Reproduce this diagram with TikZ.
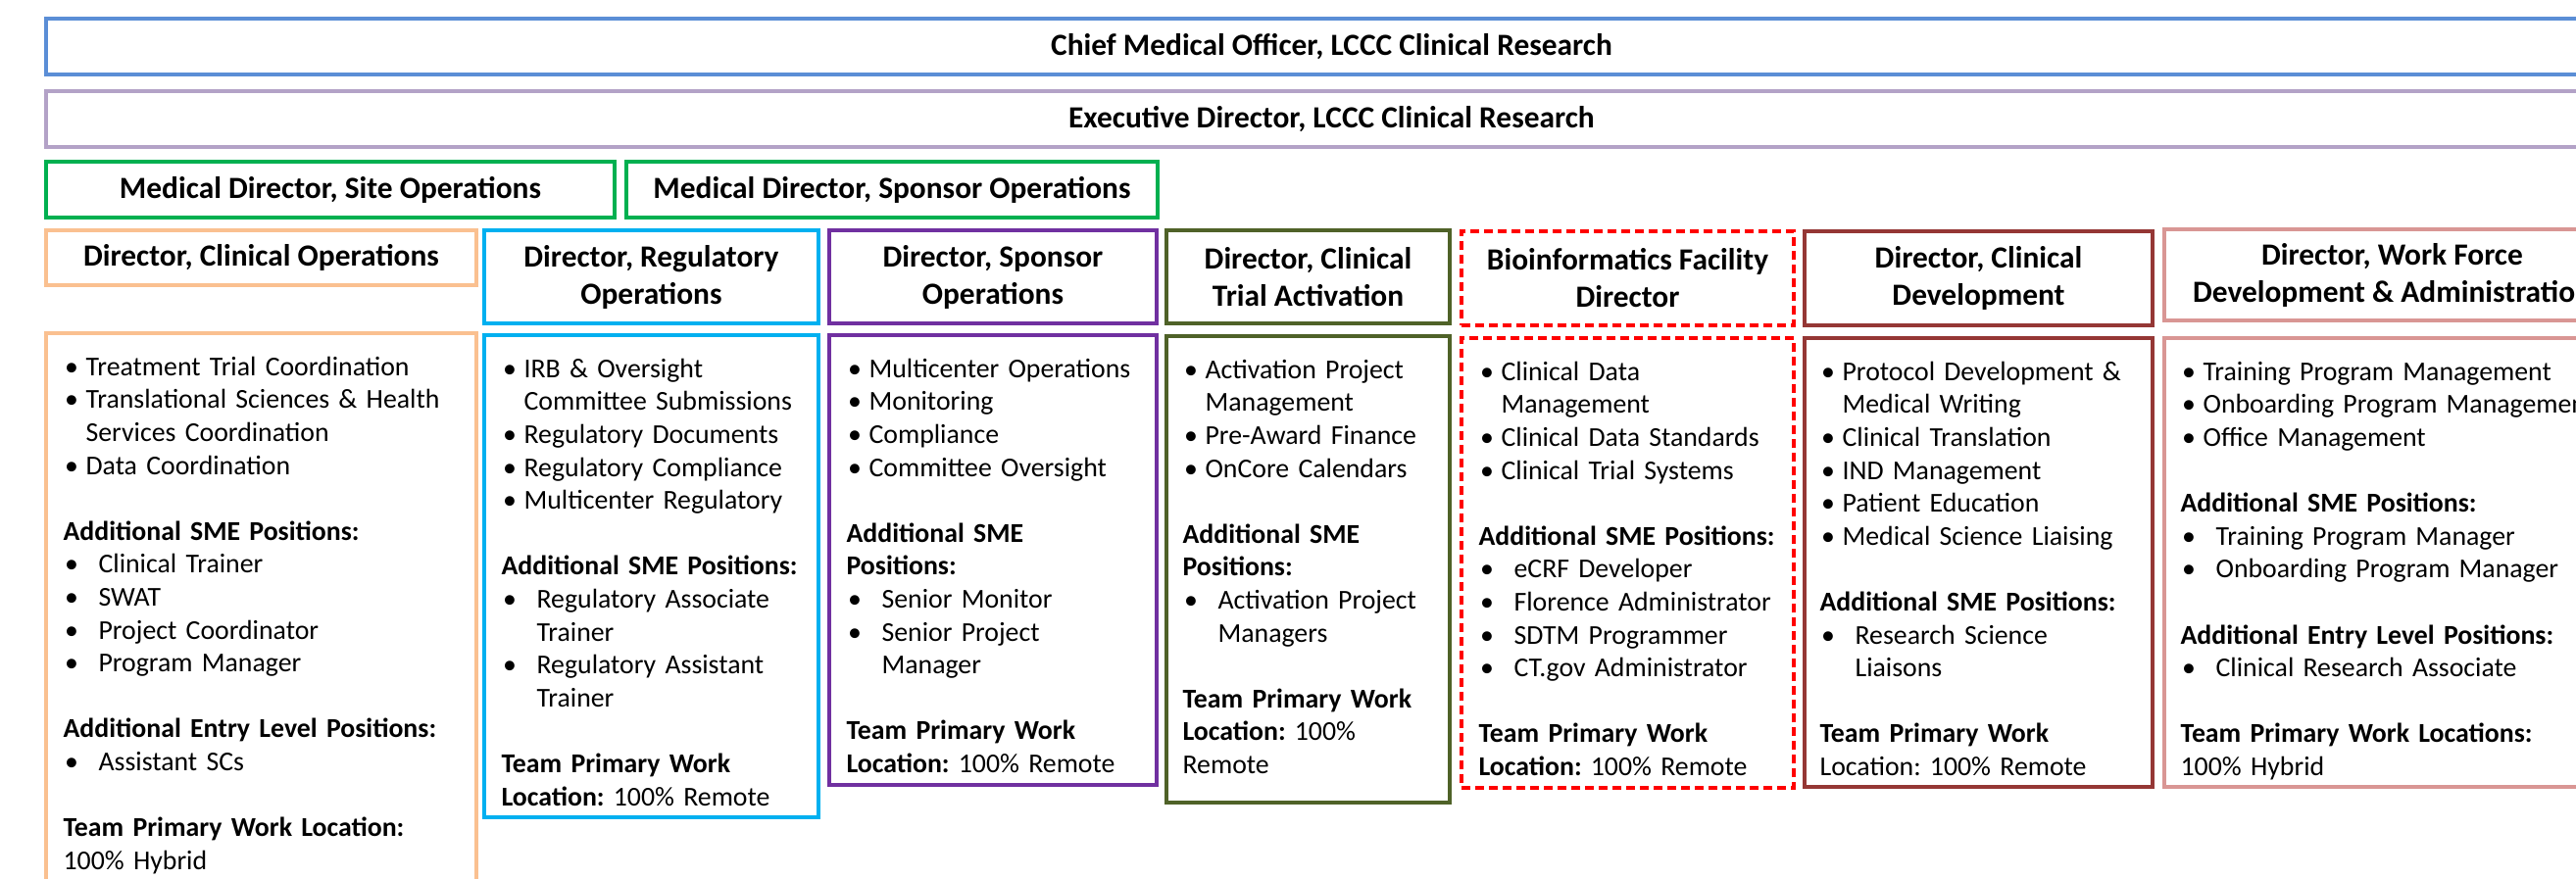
\documentclass[tikz,border=0pt]{standalone}
\usepackage{fontspec}
\setmainfont{Carlito}
\usetikzlibrary{fit}

\definecolor{cmoblue}{HTML}{5B8ED6}
\definecolor{execlav}{HTML}{B3A2C7}
\definecolor{medgreen}{HTML}{00B050}
\definecolor{opsorange}{HTML}{FAC090}
\definecolor{regcyan}{HTML}{00B0F0}
\definecolor{spopurple}{HTML}{7030A0}
\definecolor{actolive}{HTML}{4F6228}
\definecolor{biored}{HTML}{FF0000}
\definecolor{devred}{HTML}{953735}
\definecolor{wfpink}{HTML}{D99694}

% list lines inside the team boxes
\newcommand{\itm}[1]{\par\hangindent=11.5pt\hangafter=1\noindent\strut\makebox[11.5pt][l]{\hspace{0.8pt}\textbullet}#1}
\newcommand{\sme}[1]{\par\hangindent=18pt\hangafter=1\noindent\strut\makebox[18pt][l]{\hspace{0.8pt}\textbullet}#1}
\newcommand{\hd}[1]{\par\noindent\strut\textbf{#1}}
\newcommand{\rowtxt}[1]{\par\noindent\strut #1}
\newcommand{\blankrow}{\par\vspace{16.8pt}}

\begin{document}
\begin{tikzpicture}[x=0.5pt,y=-0.5pt,
    boxline/.style={line width=1.8pt, inner sep=0pt},
    hdbox/.style={boxline, align=center, font=\fontsize{15.7}{19}\selectfont\bfseries},
    bodytext/.style={anchor=north west, inner sep=0pt, text width=240pt,
        font=\fontsize{13.9}{16.8}\selectfont,
        execute at begin node={\setlength{\parskip}{0pt}\frenchspacing}},
    redash/.style={dash pattern=on 4.5pt off 2.5pt}]
\useasboundingbox (0,0) rectangle (2628,896);
\clip (0,0) rectangle (2628,896);

% leadership rows
\node[hdbox, draw=cmoblue, minimum width=1311.5pt, minimum height=28.5pt] (cmo) at (1358.5,47.5) {Chief Medical Officer, LCCC Clinical Research};
\node[hdbox, draw=execlav, minimum width=1311.5pt, minimum height=28.5pt] (exec) at (1358.5,121.5) {Executive Director, LCCC Clinical Research};
\node[hdbox, draw=medgreen, minimum width=290pt, minimum height=28.5pt] (medsite) at (337,193.5) {Medical Director, Site Operations};
\node[hdbox, draw=medgreen, minimum width=271pt, minimum height=28.5pt] (medspo) at (910,193.5) {Medical Director, Sponsor Operations};

% director headers
\node[hdbox, draw=opsorange, minimum width=219.5pt, minimum height=28pt] (opshd) at (266.5,263) {Director, Clinical Operations};
\node[hdbox, draw=regcyan, minimum width=170.5pt, minimum height=47.5pt] (reghd) at (664.5,282.5) {Director, Regulatory\\Operations};
\node[hdbox, draw=spopurple, minimum width=167pt, minimum height=47.5pt] (spohd) at (1013,282.5) {Director, Sponsor\\Operations};
\node[hdbox, draw=actolive, minimum width=144.5pt, minimum height=47.5pt] (acthd) at (1334.5,282.5) {Director, Clinical\\Trial Activation};
\node[hdbox, draw=biored, redash, minimum width=169.5pt, minimum height=48pt] (biohd) at (1660.5,284) {Bioinformatics Facility\\Director};
\node[hdbox, draw=devred, minimum width=177.5pt, minimum height=48pt] (devhd) at (2018.5,284) {Director, Clinical\\Development};
\node[hdbox, draw=wfpink, minimum width=232.5pt, minimum height=46.5pt] (wfhd) at (2440.5,280.5) {Director, Work Force\\Development \& Administration};

% team boxes
\node[boxline, draw=opsorange, fit={(47,340) (486,910)}] (opsbody) {};
\node[boxline, draw=regcyan, fit={(494,342) (835,834)}] (regbody) {};
\node[boxline, draw=spopurple, fit={(846,342) (1180,801)}] (spobody) {};
\node[boxline, draw=actolive, fit={(1190,343) (1479,819)}] (actbody) {};
\node[boxline, draw=biored, redash, fit={(1491,345) (1830,804)}] (biobody) {};
\node[boxline, draw=devred, fit={(1841,345) (2196,803)}] (devbody) {};
\node[boxline, draw=wfpink, fit={(2208,345) (2673,803)}] (wfbody) {};

\node[bodytext] (opstext) at ([shift={(19,11)}]opsbody.north west) {
\itm{Treatment Trial Coordination}
\itm{Translational Sciences \& Health\newline Services Coordination}
\itm{Data Coordination}
\blankrow
\hd{Additional SME Positions:}
\sme{Clinical Trainer}
\sme{SWAT}
\sme{Project Coordinator}
\sme{Program Manager}
\blankrow
\hd{Additional Entry Level Positions:}
\sme{Assistant SCs}
\blankrow
\hd{Team Primary Work Location:}
\rowtxt{100\% Hybrid}};

\node[bodytext] (regtext) at ([shift={(19,11)}]regbody.north west) {
\itm{IRB \& Oversight\newline Committee Submissions}
\itm{Regulatory Documents}
\itm{Regulatory Compliance}
\itm{Multicenter Regulatory}
\blankrow
\hd{Additional SME Positions:}
\sme{Regulatory Associate\newline Trainer}
\sme{Regulatory Assistant\newline Trainer}
\blankrow
\hd{Team Primary Work}
\rowtxt{\textbf{Location:} 100\% Remote}};

\node[bodytext] (spotext) at ([shift={(19,11)}]spobody.north west) {
\itm{Multicenter Operations}
\itm{Monitoring}
\itm{Compliance}
\itm{Committee Oversight}
\blankrow
\hd{Additional SME}
\hd{Positions:}
\sme{Senior Monitor}
\sme{Senior Project\newline Manager}
\blankrow
\hd{Team Primary Work}
\rowtxt{\textbf{Location:} 100\% Remote}};

\node[bodytext] (acttext) at ([shift={(18,11)}]actbody.north west) {
\itm{Activation Project\newline Management}
\itm{Pre-Award Finance}
\itm{OnCore Calendars}
\blankrow
\hd{Additional SME}
\hd{Positions:}
\sme{Activation Project\newline Managers}
\blankrow
\hd{Team Primary Work}
\rowtxt{\textbf{Location:} 100\%}
\rowtxt{Remote}};

\node[bodytext] (biotext) at ([shift={(19,11)}]biobody.north west) {
\itm{Clinical Data\newline Management}
\itm{Clinical Data Standards}
\itm{Clinical Trial Systems}
\blankrow
\hd{Additional SME Positions:}
\sme{eCRF Developer}
\sme{Florence Administrator}
\sme{SDTM Programmer}
\sme{CT.gov Administrator}
\blankrow
\hd{Team Primary Work}
\rowtxt{\textbf{Location:} 100\% Remote}};

\node[bodytext] (devtext) at ([shift={(17,11)}]devbody.north west) {
\itm{Protocol Development \&\newline Medical Writing}
\itm{Clinical Translation}
\itm{IND Management}
\itm{Patient Education}
\itm{Medical Science Liaising}
\blankrow
\hd{Additional SME Positions:}
\sme{Research Science\newline Liaisons}
\blankrow
\hd{Team Primary Work}
\rowtxt{Location: 100\% Remote}};

\node[bodytext] (wftext) at ([shift={(18,11)}]wfbody.north west) {
\itm{Training Program Management}
\itm{Onboarding Program Management}
\itm{Office Management}
\blankrow
\hd{Additional SME Positions:}
\sme{Training Program Manager}
\sme{Onboarding Program Manager}
\blankrow
\hd{Additional Entry Level Positions:}
\sme{Clinical Research Associate}
\blankrow
\hd{Team Primary Work Locations:}
\rowtxt{100\% Hybrid}};
\end{tikzpicture}
\end{document}
